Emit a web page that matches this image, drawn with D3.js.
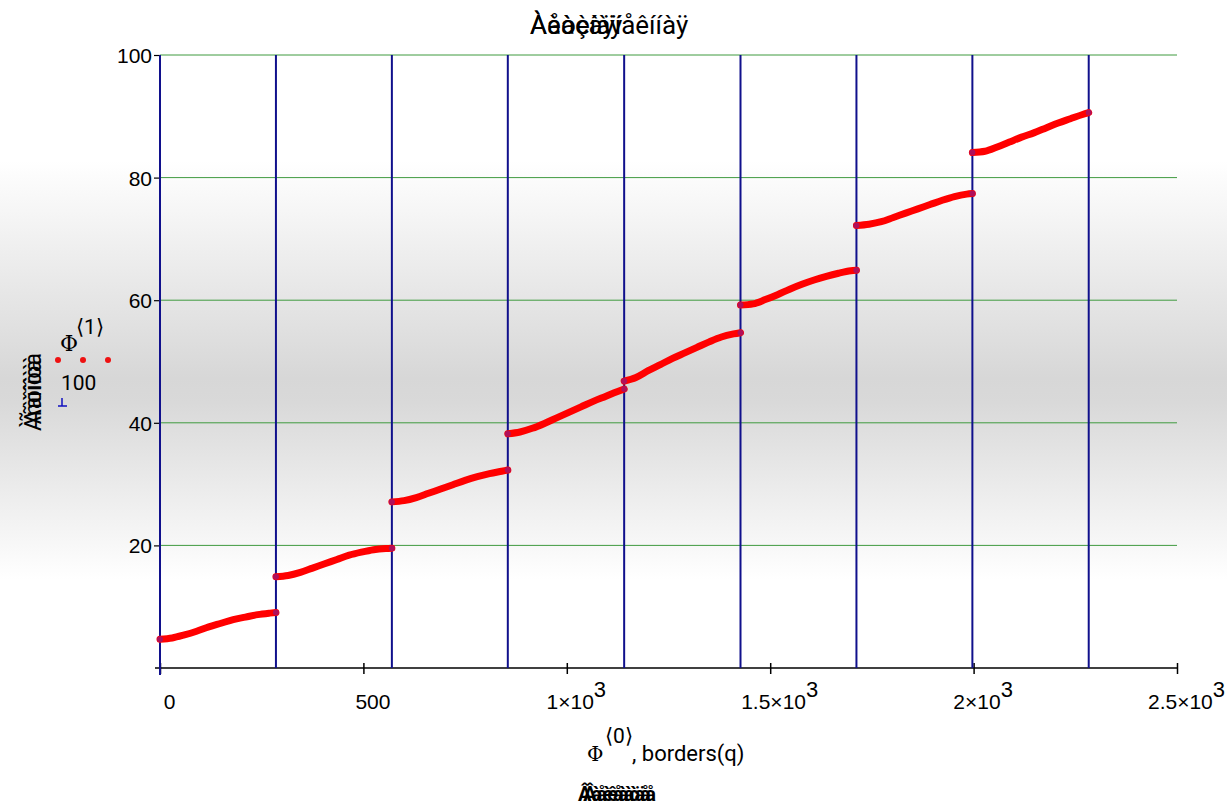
<!DOCTYPE html>
<html>
<head>
<meta charset="utf-8">
<script src="https://cdn.jsdelivr.net/npm/d3@7"></script>
<style>
  body { margin: 0; background: #fff; }
  svg { display: block; font-family: Roboto, "Liberation Sans", Arial, sans-serif; }
</style>
</head>
<body>
<div id="container"></div>
<script>
// borders(q) positions (vertical lines)
const borders = [0, 285, 570, 855, 1141, 1427, 1712, 1997, 2283];

// Phi<0> sampled along each segment
const seg1X = [0, 30, 60, 90, 120, 150, 180, 210, 240, 270, 285];
const seg1Y = [4.7, 4.9, 5.4, 6.0, 6.7, 7.3, 7.9, 8.3, 8.7, 8.95, 9.05];
const seg2X = [285, 315, 345, 375, 405, 435, 465, 495, 525, 555, 570];
const seg2Y = [14.9, 15.1, 15.6, 16.3, 17.0, 17.7, 18.4, 18.9, 19.3, 19.5, 19.55];
const seg3X = [570, 600, 630, 660, 690, 720, 750, 780, 810, 840, 855];
const seg3Y = [27.1, 27.3, 27.8, 28.5, 29.2, 29.9, 30.6, 31.2, 31.7, 32.1, 32.3];
const seg4X = [855, 885, 915, 945, 975, 1005, 1035, 1065, 1095, 1125, 1141];
const seg4Y = [38.2, 38.5, 39.1, 39.9, 40.8, 41.7, 42.6, 43.5, 44.3, 45.1, 45.5];
const seg5X = [1141, 1170, 1200, 1230, 1260, 1290, 1320, 1350, 1380, 1410, 1427];
const seg5Y = [46.8, 47.4, 48.5, 49.5, 50.5, 51.4, 52.3, 53.2, 54.0, 54.5, 54.7];
const seg6X = [1427, 1458, 1488, 1518, 1548, 1578, 1608, 1638, 1668, 1698, 1712];
const seg6Y = [59.2, 59.4, 60.1, 60.9, 61.8, 62.6, 63.3, 63.9, 64.4, 64.8, 64.9];
const seg7X = [1712, 1743, 1773, 1803, 1833, 1863, 1893, 1923, 1953, 1983, 1997];
const seg7Y = [72.2, 72.4, 72.8, 73.5, 74.2, 74.9, 75.6, 76.3, 76.9, 77.3, 77.4];
const seg8X = [1997, 2028, 2058, 2088, 2118, 2148, 2178, 2208, 2238, 2268, 2283];
const seg8Y = [84.1, 84.3, 85.0, 85.8, 86.6, 87.3, 88.1, 88.9, 89.6, 90.3, 90.6];

const xTicks = [0, 500, 1000, 1500, 2000, 2500];
const xTickLabels = [['0', ''], ['500', ''], ['1\u00d710', '3'], ['1.5\u00d710', '3'], ['2\u00d710', '3'], ['2.5\u00d710', '3']];
const yTicks = [20, 40, 60, 80, 100];

const width = 1227, height = 805;
const x = d3.scaleLinear().domain([0, 2500]).range([160, 1177]);
const y = d3.scaleLinear().domain([0, 100]).range([668, 55]);

const svg = d3.select('#container').append('svg')
  .attr('width', width)
  .attr('height', height);

// -- background band
const grad = svg.append('defs').append('linearGradient')
  .attr('id', 'bg').attr('x1', 0).attr('y1', 0).attr('x2', 0).attr('y2', 1);
[[0, '#ffffff'], [0.2, '#ffffff'], [0.47, '#d7d7d7'], [0.5, '#d9d9d9'], [0.72, '#ffffff'], [1, '#ffffff']]
  .forEach(([o, c]) => grad.append('stop').attr('offset', o).attr('stop-color', c));
svg.append('rect').attr('width', width).attr('height', height).attr('fill', 'url(#bg)');

// -- green gridlines
svg.append('g')
  .selectAll('line')
  .data(yTicks)
  .join('line')
  .attr('x1', x(0)).attr('x2', x(2500))
  .attr('y1', d => y(d)).attr('y2', d => y(d))
  .attr('stroke', '#3f9a3f')
  .attr('stroke-width', 1);

// -- x axis
const xAxis = svg.append('g')
  .attr('transform', `translate(0,${y(0)})`)
  .call(d3.axisBottom(x).tickValues(xTicks).tickSize(6).tickFormat(''));
xAxis.select('.domain').attr('d', `M155,0H${x(2500)}`).attr('stroke', '#000').attr('stroke-width', 1.5);
xAxis.selectAll('.tick line').attr('y1', -5).attr('y2', 6).attr('stroke', '#000').attr('stroke-width', 1.5);
xAxis.selectAll('.tick').each(function (d, i) {
  const t = d3.select(this).append('text')
    .attr('x', 9).attr('y', 41)
    .attr('fill', '#000')
    .attr('font-size', 21)
    .attr('text-anchor', 'middle');
  t.append('tspan').text(xTickLabels[i][0]);
  if (xTickLabels[i][1]) t.append('tspan').attr('dy', -12).attr('font-size', 22).text(xTickLabels[i][1]);
});

// -- y axis
const yAxis = svg.append('g')
  .attr('transform', `translate(${x(0)},0)`)
  .call(d3.axisLeft(y).tickValues(yTicks).tickSize(6).tickPadding(2));
yAxis.select('.domain').remove();
yAxis.selectAll('.tick line').attr('stroke', '#000').attr('stroke-width', 1.2);
yAxis.selectAll('.tick text').attr('font-size', 21).attr('fill', '#000').attr('dy', '0.36em');

// -- border lines
svg.append('g')
  .selectAll('line')
  .data(borders)
  .join('line')
  .attr('x1', d => x(d)).attr('x2', d => x(d))
  .attr('y1', y(100)).attr('y2', (d, i) => i === 0 ? y(0) + 7 : y(0))
  .attr('stroke', '#10108c')
  .attr('stroke-width', 2);

// -- Phi<1>/100 segments
const segments = [
  [seg1X, seg1Y], [seg2X, seg2Y], [seg3X, seg3Y], [seg4X, seg4Y],
  [seg5X, seg5Y], [seg6X, seg6Y], [seg7X, seg7Y], [seg8X, seg8Y]
].map(([xs, ys]) => xs.map((v, i) => [v, ys[i]]));

const line = d3.line()
  .x(d => x(d[0]))
  .y(d => y(d[1]))
  .curve(d3.curveMonotoneX);

svg.append('g')
  .attr('fill', 'none')
  .selectAll('path')
  .data(segments)
  .join('path')
  .attr('d', line)
  .attr('stroke', '#ff0000')
  .attr('stroke-width', 7)
  .attr('stroke-linecap', 'round');

svg.append('g')
  .selectAll('circle')
  .data(segments.flatMap(s => [s[0], s[s.length - 1]]))
  .join('circle')
  .attr('cx', d => x(d[0]))
  .attr('cy', d => y(d[1]))
  .attr('r', 3)
  .attr('fill', '#b0105a');

// -- title (overlapping strings)
const title = svg.append('g').attr('font-size', 26).attr('fill', '#000').attr('text-anchor', 'start');
title.append('text').attr('x', 530).attr('y', 34).text('\u00c0\u00e5\u00f2\u00e8\u00ed\u00e0\u00ff');
title.append('text').attr('x', 530).attr('y', 34).text('\u00c0\u00e8\u00e0\u00e7\u00e0\u00ff\u00ed\u00e5\u00ea\u00ed\u00ed\u00e0\u00ff');

// -- y label (rotated, overlapping)
const ylab = svg.append('g').attr('font-size', 23).attr('fill', '#000').attr('text-anchor', 'middle')
  .attr('transform', 'translate(41,392) rotate(-90)');
ylab.append('text').text('\u00c0\u00f1\u00f2\u00ee\u00ee\u00f2\u00e0');
ylab.append('text').text('\u00c3\u00e0\u00ee\u00ee\u00f2\u00e0');

// -- legend
const leg = svg.append('g');
leg.append('text').attr('x', 60).attr('y', 351).attr('font-size', 22).attr('font-family', 'DejaVu Serif, serif').text('\u03a6');
leg.append('text').attr('x', 76).attr('y', 334).attr('font-size', 21).text('\u27e81\u27e9');
leg.selectAll('circle').data([58, 83, 108]).join('circle')
  .attr('cx', d => d).attr('cy', 360).attr('r', 3).attr('fill', '#ee1111');
leg.append('text').attr('x', 61).attr('y', 390).attr('font-size', 21).text('100');
leg.append('path').attr('d', 'M62,398V406M58,406H67').attr('stroke', '#1010c0').attr('stroke-width', 1.5).attr('fill', 'none');

// -- x label
const xl = svg.append('g').attr('fill', '#000');
xl.append('text').attr('x', 587).attr('y', 761).attr('font-size', 20).attr('font-family', 'DejaVu Serif, serif').text('\u03a6');
xl.append('text').attr('x', 605).attr('y', 743).attr('font-size', 21).text('\u27e80\u27e9');
xl.append('text').attr('x', 632).attr('y', 761).attr('font-size', 22).text(', borders(q)');

const bl = svg.append('g').attr('font-size', 20).attr('font-weight', 'bold').attr('fill', '#000').attr('text-anchor', 'middle');
bl.append('text').attr('x', 617).attr('y', 801).text('\u00c2\u00e0\u00e8\u00e5\u00e0\u00e4\u00e5');
bl.append('text').attr('x', 617).attr('y', 801).text('\u00c2\u00e5\u00ea\u00e0\u00f2\u00e5');
</script>
</body>
</html>
